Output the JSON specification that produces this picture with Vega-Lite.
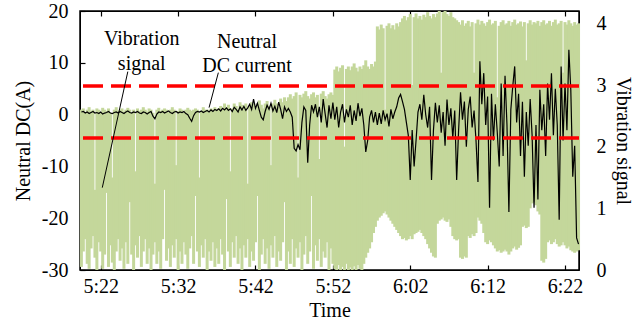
{
  "$schema": "https://vega.github.io/schema/vega-lite/v6.json",
  "width": 499,
  "height": 259,
  "autosize": {"type": "none"},
  "padding": {"left": 80, "top": 11, "right": 57, "bottom": 52},
  "config": {
    "font": "Times New Roman, Liberation Serif, serif",
    "view": {"stroke": "black", "strokeWidth": 1.5},
    "axis": {
      "labelFont": "Times New Roman, Liberation Serif, serif",
      "titleFont": "Times New Roman, Liberation Serif, serif",
      "labelFontSize": 20,
      "titleFontSize": 20,
      "titleFontWeight": "normal",
      "labelColor": "black",
      "titleColor": "black",
      "tickColor": "black",
      "domainColor": "black",
      "grid": false,
      "tickSize": -5,
      "tickWidth": 1.2
    }
  },
  "datasets": {
    "sig": [
      {"t":19.5,"lo":0.05,"hi":2.6,"dc":0.5},{"t":19.75,"lo":0.3,"hi":2.62,"dc":0.6},{"t":20,"lo":0.5,"hi":2.55,"dc":0.3},{"t":20.25,"lo":0.1,"hi":2.6,"dc":0.5},
      {"t":20.5,"lo":0.02,"hi":2.64,"dc":0.2},{"t":20.75,"lo":0.35,"hi":2.58,"dc":0.4},{"t":21,"lo":0.55,"hi":2.6,"dc":0.6},{"t":21.25,"lo":0.2,"hi":1.3,"dc":0.3},
      {"t":21.5,"lo":0.0,"hi":2.62,"dc":0.4},{"t":21.75,"lo":0.45,"hi":2.6,"dc":0.2},{"t":22,"lo":0.3,"hi":2.56,"dc":0.5},{"t":22.25,"lo":0.02,"hi":2.63,"dc":0.1},
      {"t":22.5,"lo":0.25,"hi":2.6,"dc":0.3},{"t":22.75,"lo":1.25,"hi":2.58,"dc":0.4},{"t":23,"lo":0.05,"hi":2.62,"dc":0.6},{"t":23.25,"lo":0.4,"hi":2.55,"dc":0.3},
      {"t":23.5,"lo":0.12,"hi":1.5,"dc":0.2},{"t":23.75,"lo":0.0,"hi":2.6,"dc":0.4},{"t":24,"lo":0.3,"hi":2.64,"dc":0.5},{"t":24.25,"lo":0.5,"hi":2.58,"dc":0.3},
      {"t":24.5,"lo":0.15,"hi":2.6,"dc":0.6},{"t":24.75,"lo":0.35,"hi":2.62,"dc":0.4},{"t":25,"lo":0.02,"hi":2.57,"dc":0.2},{"t":25.25,"lo":0.45,"hi":2.6,"dc":0.5},
      {"t":25.5,"lo":0.1,"hi":2.63,"dc":0.7},{"t":25.75,"lo":1.1,"hi":2.6,"dc":0.4},{"t":26,"lo":0.25,"hi":2.55,"dc":0.3},{"t":26.25,"lo":0.0,"hi":2.6,"dc":0.5},
      {"t":26.5,"lo":0.4,"hi":1.6,"dc":0.4},{"t":26.75,"lo":0.2,"hi":2.62,"dc":0.6},{"t":27,"lo":0.55,"hi":2.58,"dc":0.3},{"t":27.25,"lo":0.05,"hi":2.6,"dc":0.2},
      {"t":27.5,"lo":0.3,"hi":2.64,"dc":0.5},{"t":27.75,"lo":0.5,"hi":2.6,"dc":0.4},{"t":28,"lo":0.1,"hi":2.57,"dc":0.1},{"t":28.25,"lo":0.35,"hi":2.62,"dc":0.4},
      {"t":28.5,"lo":0.0,"hi":2.6,"dc":0.6},{"t":28.75,"lo":0.25,"hi":2.55,"dc":-0.3},{"t":29,"lo":0.45,"hi":1.4,"dc":-0.8},{"t":29.25,"lo":0.1,"hi":2.6,"dc":0.1},
      {"t":29.5,"lo":0.3,"hi":2.63,"dc":0.5},{"t":29.75,"lo":0.02,"hi":2.58,"dc":0.4},{"t":30,"lo":0.5,"hi":2.6,"dc":0.6},{"t":30.25,"lo":1.3,"hi":2.62,"dc":0.3},
      {"t":30.5,"lo":0.15,"hi":2.6,"dc":0.5},{"t":30.75,"lo":0.35,"hi":2.56,"dc":0.7},{"t":31,"lo":0.05,"hi":2.6,"dc":0.4},{"t":31.25,"lo":0.4,"hi":2.64,"dc":0.2},
      {"t":31.5,"lo":0.2,"hi":2.6,"dc":0.5},{"t":31.75,"lo":0.5,"hi":1.7,"dc":0.6},{"t":32,"lo":0.0,"hi":2.58,"dc":0.3},{"t":32.25,"lo":0.3,"hi":2.62,"dc":0.5},
      {"t":32.5,"lo":0.1,"hi":2.6,"dc":0.4},{"t":32.75,"lo":0.45,"hi":2.55,"dc":0.6},{"t":33,"lo":0.25,"hi":2.6,"dc":0.2},{"t":33.25,"lo":0.02,"hi":2.63,"dc":0.0},
      {"t":33.5,"lo":0.35,"hi":2.6,"dc":-0.7},{"t":33.75,"lo":0.55,"hi":2.58,"dc":-1.3},{"t":34,"lo":0.1,"hi":2.6,"dc":-0.2},{"t":34.25,"lo":1.2,"hi":2.62,"dc":0.4},
      {"t":34.5,"lo":0.3,"hi":2.6,"dc":0.6},{"t":34.75,"lo":0.05,"hi":1.5,"dc":0.5},{"t":35,"lo":0.4,"hi":2.58,"dc":0.7},{"t":35.25,"lo":0.2,"hi":2.64,"dc":0.4},
      {"t":35.5,"lo":0.5,"hi":2.6,"dc":0.6},{"t":35.75,"lo":0.0,"hi":2.6,"dc":0.8},{"t":36,"lo":0.3,"hi":2.56,"dc":0.5},{"t":36.25,"lo":0.15,"hi":2.62,"dc":0.9},
      {"t":36.5,"lo":0.45,"hi":2.6,"dc":0.6},{"t":36.75,"lo":0.05,"hi":2.64,"dc":1.0},{"t":37,"lo":0.35,"hi":2.6,"dc":0.8},
      {"t":37.25,"lo":0.1,"hi":2.62,"dc":1.1},{"t":37.5,"lo":0.5,"hi":2.66,"dc":0.7},{"t":37.75,"lo":0.25,"hi":2.6,"dc":1.2},{"t":38,"lo":0.0,"hi":2.7,"dc":0.9},
      {"t":38.25,"lo":1.15,"hi":2.64,"dc":1.3},{"t":38.5,"lo":0.3,"hi":2.68,"dc":0.8},{"t":38.75,"lo":0.05,"hi":1.6,"dc":1.1},{"t":39,"lo":0.45,"hi":2.62,"dc":0.6},
      {"t":39.25,"lo":0.2,"hi":2.7,"dc":1.4},{"t":39.5,"lo":0.55,"hi":2.66,"dc":1.0},{"t":39.75,"lo":0.1,"hi":2.6,"dc":0.5},{"t":40,"lo":0.35,"hi":2.72,"dc":1.5},
      {"t":40.25,"lo":0.0,"hi":2.68,"dc":0.9},{"t":40.5,"lo":0.4,"hi":2.64,"dc":1.6},{"t":40.75,"lo":0.2,"hi":2.7,"dc":0.8},{"t":41,"lo":0.5,"hi":1.4,"dc":1.3},
      {"t":41.25,"lo":0.05,"hi":2.66,"dc":2.0},{"t":41.5,"lo":0.3,"hi":2.72,"dc":1.0},{"t":41.75,"lo":0.15,"hi":2.7,"dc":3.0},{"t":42,"lo":0.45,"hi":2.64,"dc":1.2},
      {"t":42.25,"lo":1.2,"hi":2.7,"dc":2.2},{"t":42.5,"lo":0.0,"hi":2.75,"dc":0.8},{"t":42.75,"lo":0.25,"hi":2.68,"dc":-0.5},{"t":43,"lo":0.5,"hi":2.62,"dc":-1.0},
      {"t":43.25,"lo":0.1,"hi":2.7,"dc":0.6},{"t":43.5,"lo":0.35,"hi":2.74,"dc":1.8},{"t":43.75,"lo":0.02,"hi":2.66,"dc":1.0},{"t":44,"lo":0.4,"hi":1.7,"dc":2.2},
      {"t":44.25,"lo":0.2,"hi":2.7,"dc":0.7},{"t":44.5,"lo":0.55,"hi":2.76,"dc":1.6},{"t":44.75,"lo":0.05,"hi":2.7,"dc":0.4},{"t":45,"lo":0.3,"hi":2.65,"dc":2.4},
      {"t":45.25,"lo":0.15,"hi":2.78,"dc":1.0},{"t":45.5,"lo":0.45,"hi":2.72,"dc":-0.8},{"t":45.75,"lo":1.1,"hi":2.8,"dc":1.5},{"t":46,"lo":0.0,"hi":2.74,"dc":0.6},
      {"t":46.25,"lo":0.3,"hi":2.8,"dc":1.2},{"t":46.5,"lo":0.1,"hi":2.85,"dc":0.5},{"t":46.75,"lo":0.5,"hi":2.78,"dc":-0.5},{"t":47,"lo":0.05,"hi":2.82,"dc":-6.5},
      {"t":47.25,"lo":0.35,"hi":2.88,"dc":-7.0},{"t":47.5,"lo":0.2,"hi":1.5,"dc":-5.8},{"t":47.75,"lo":0.45,"hi":2.84,"dc":-6.8},{"t":48,"lo":0.0,"hi":2.8,"dc":-1.5},
      {"t":48.25,"lo":0.25,"hi":2.86,"dc":1.5},{"t":48.5,"lo":0.55,"hi":2.9,"dc":0.8},{"t":48.75,"lo":0.1,"hi":2.82,"dc":-9.3},{"t":49,"lo":0.3,"hi":2.78,"dc":-2.0},
      {"t":49.25,"lo":1.2,"hi":2.85,"dc":1.8},{"t":49.5,"lo":0.02,"hi":2.88,"dc":0.5},{"t":49.75,"lo":0.4,"hi":2.8,"dc":2.0},{"t":50,"lo":0.15,"hi":2.84,"dc":-0.5},
      {"t":50.25,"lo":0.5,"hi":1.8,"dc":1.5},{"t":50.5,"lo":0.05,"hi":2.86,"dc":-1.5},{"t":50.75,"lo":0.3,"hi":2.9,"dc":3.0},{"t":51,"lo":0.2,"hi":2.82,"dc":0.2},
      {"t":51.25,"lo":0.45,"hi":2.78,"dc":-2.5},{"t":51.5,"lo":0.0,"hi":2.85,"dc":1.8},{"t":51.75,"lo":0.35,"hi":2.88,"dc":-0.8},{"t":52,"lo":0.1,"hi":2.84,"dc":2.3},
      {"t":52.25,"lo":0.02,"hi":3.25,"dc":-1.0},{"t":52.5,"lo":0.0,"hi":3.3,"dc":1.5},{"t":52.75,"lo":0.08,"hi":3.22,"dc":-2.5},{"t":53,"lo":0.0,"hi":3.28,"dc":0.5},
      {"t":53.25,"lo":0.05,"hi":3.32,"dc":2.0},{"t":53.5,"lo":0.0,"hi":2.0,"dc":-1.5},{"t":53.75,"lo":0.1,"hi":3.26,"dc":1.0},{"t":54,"lo":0.0,"hi":3.3,"dc":-0.5},
      {"t":54.25,"lo":0.04,"hi":3.24,"dc":1.8},{"t":54.5,"lo":0.0,"hi":3.3,"dc":-2.0},{"t":54.75,"lo":0.06,"hi":3.35,"dc":0.8},{"t":55,"lo":0.0,"hi":3.28,"dc":-1.2},
      {"t":55.25,"lo":0.08,"hi":3.22,"dc":2.2},{"t":55.5,"lo":0.02,"hi":3.3,"dc":-0.3},{"t":55.75,"lo":0.0,"hi":3.26,"dc":1.2},{"t":56,"lo":0.1,"hi":3.32,"dc":-2.0},
      {"t":56.25,"lo":0.2,"hi":3.4,"dc":-7.2},{"t":56.5,"lo":0.28,"hi":3.3,"dc":-5.0},{"t":56.75,"lo":0.35,"hi":3.26,"dc":-0.5},{"t":57,"lo":0.45,"hi":3.34,"dc":0.8},
      {"t":57.25,"lo":0.6,"hi":3.3,"dc":-1.5},{"t":57.5,"lo":0.7,"hi":3.38,"dc":0.5},
      {"t":57.75,"lo":0.8,"hi":3.95,"dc":-2.0},{"t":58,"lo":0.85,"hi":3.9,"dc":0.3},{"t":58.25,"lo":0.88,"hi":3.98,"dc":-1.8},{"t":58.5,"lo":0.92,"hi":3.92,"dc":0.8},
      {"t":58.75,"lo":0.95,"hi":2.6,"dc":-1.0},{"t":59,"lo":0.9,"hi":3.96,"dc":0.2},{"t":59.25,"lo":0.85,"hi":4.0,"dc":-2.3},{"t":59.5,"lo":0.8,"hi":3.92,"dc":1.0},
      {"t":59.75,"lo":0.75,"hi":3.97,"dc":-0.8},{"t":60,"lo":0.7,"hi":3.9,"dc":0.5},{"t":60.25,"lo":0.65,"hi":4.0,"dc":1.5},{"t":60.5,"lo":0.6,"hi":3.95,"dc":3.2},
      {"t":60.75,"lo":0.55,"hi":4.02,"dc":3.9},
      {"t":61,"lo":0.5,"hi":4.08,"dc":2.5},{"t":61.25,"lo":0.52,"hi":4.12,"dc":1.0},{"t":61.5,"lo":0.48,"hi":4.05,"dc":-1.5},{"t":61.75,"lo":0.5,"hi":4.1,"dc":-4.0},
      {"t":62,"lo":0.55,"hi":4.15,"dc":-12.6},{"t":62.25,"lo":0.5,"hi":3.0,"dc":-3.0},{"t":62.5,"lo":0.58,"hi":4.1,"dc":-10.0},{"t":62.75,"lo":0.6,"hi":4.16,"dc":-5.0},
      {"t":63,"lo":0.62,"hi":4.08,"dc":0.5},{"t":63.25,"lo":0.65,"hi":4.12,"dc":2.0},{"t":63.5,"lo":0.6,"hi":4.06,"dc":-1.0},{"t":63.75,"lo":0.55,"hi":4.14,"dc":3.8},
      {"t":64,"lo":0.5,"hi":4.1,"dc":0.0},{"t":64.25,"lo":0.42,"hi":4.18,"dc":-2.5},{"t":64.5,"lo":0.35,"hi":4.12,"dc":1.5},{"t":64.75,"lo":0.28,"hi":4.08,"dc":-12.6},
      {"t":65,"lo":0.22,"hi":4.15,"dc":-3.0},{"t":65.25,"lo":0.2,"hi":4.1,"dc":2.3},{"t":65.5,"lo":0.75,"hi":4.16,"dc":-1.5},{"t":65.75,"lo":0.8,"hi":4.2,"dc":1.8},
      {"t":66,"lo":0.82,"hi":3.2,"dc":-3.5},{"t":66.25,"lo":0.85,"hi":4.18,"dc":0.5},{"t":66.5,"lo":0.8,"hi":4.2,"dc":-6.0},{"t":66.75,"lo":0.78,"hi":4.15,"dc":2.9},
      {"t":67,"lo":0.82,"hi":4.12,"dc":-2.0},{"t":67.25,"lo":0.7,"hi":4.18,"dc":1.2},{"t":67.5,"lo":0.55,"hi":4.1,"dc":-4.5},{"t":67.75,"lo":0.5,"hi":4.08,"dc":0.8},
      {"t":68,"lo":0.48,"hi":4.05,"dc":-12.6},
      {"t":68.25,"lo":0.5,"hi":4.02,"dc":-3.0},{"t":68.5,"lo":0.2,"hi":3.98,"dc":4.3},{"t":68.75,"lo":0.18,"hi":4.05,"dc":-1.0},{"t":69,"lo":0.22,"hi":3.96,"dc":2.5},
      {"t":69.25,"lo":0.2,"hi":4.0,"dc":-6.2},{"t":69.5,"lo":0.55,"hi":4.04,"dc":1.0},{"t":69.75,"lo":0.52,"hi":3.95,"dc":3.5},{"t":70,"lo":0.58,"hi":4.02,"dc":-2.5},
      {"t":70.25,"lo":0.55,"hi":3.2,"dc":0.8},{"t":70.5,"lo":0.6,"hi":4.0,"dc":-5.0},{"t":70.75,"lo":0.85,"hi":4.06,"dc":-13.0},{"t":71,"lo":0.8,"hi":3.98,"dc":10.3},
      {"t":71.25,"lo":0.75,"hi":4.04,"dc":2.0},{"t":71.5,"lo":0.6,"hi":4.0,"dc":8.0},{"t":71.75,"lo":0.45,"hi":3.96,"dc":-2.0},{"t":72,"lo":0.42,"hi":4.02,"dc":3.5},
      {"t":72.25,"lo":0.48,"hi":4.06,"dc":-18.0},{"t":72.5,"lo":0.45,"hi":3.98,"dc":4.0},{"t":72.75,"lo":0.4,"hi":4.0,"dc":-5.0},{"t":73,"lo":0.35,"hi":4.04,"dc":2.0},
      {"t":73.25,"lo":0.3,"hi":2.8,"dc":-3.5},{"t":73.5,"lo":0.32,"hi":3.96,"dc":-10.0},{"t":73.75,"lo":0.28,"hi":4.02,"dc":6.0},{"t":74,"lo":0.3,"hi":4.05,"dc":-8.0},
      {"t":74.25,"lo":0.33,"hi":3.98,"dc":7.5},{"t":74.5,"lo":0.3,"hi":4.0,"dc":-2.0},{"t":74.75,"lo":0.25,"hi":4.04,"dc":-18.8},{"t":75,"lo":0.3,"hi":3.96,"dc":1.0},
      {"t":75.25,"lo":0.35,"hi":4.02,"dc":5.5},{"t":75.5,"lo":0.38,"hi":4.06,"dc":9.3},{"t":75.75,"lo":0.33,"hi":3.98,"dc":-1.5},{"t":76,"lo":0.36,"hi":4.0,"dc":4.0},
      {"t":76.25,"lo":0.4,"hi":4.03,"dc":-8.0},{"t":76.5,"lo":0.7,"hi":3.95,"dc":2.5},{"t":76.75,"lo":0.72,"hi":4.02,"dc":-12.0},{"t":77,"lo":0.68,"hi":3.4,"dc":0.5},
      {"t":77.25,"lo":0.7,"hi":4.0,"dc":-6.0},{"t":77.5,"lo":1.0,"hi":4.05,"dc":3.0},{"t":77.75,"lo":1.08,"hi":3.98,"dc":-4.0},{"t":78,"lo":1.1,"hi":4.02,"dc":-18.0},
      {"t":78.25,"lo":1.05,"hi":4.0,"dc":-2.0},{"t":78.5,"lo":0.95,"hi":4.04,"dc":-16.4},{"t":78.75,"lo":0.9,"hi":3.96,"dc":4.8},{"t":79,"lo":0.15,"hi":4.02,"dc":-3.0},
      {"t":79.25,"lo":0.12,"hi":4.05,"dc":2.0},{"t":79.5,"lo":0.18,"hi":3.98,"dc":-8.0},{"t":79.75,"lo":0.45,"hi":4.0,"dc":6.0},{"t":80,"lo":0.48,"hi":4.04,"dc":-1.0},
      {"t":80.25,"lo":0.42,"hi":3.96,"dc":8.0},{"t":80.5,"lo":0.45,"hi":4.02,"dc":-4.0},{"t":80.75,"lo":0.5,"hi":4.06,"dc":5.0},{"t":81,"lo":0.42,"hi":3.98,"dc":-2.0},
      {"t":81.25,"lo":0.38,"hi":4.0,"dc":-20.3},{"t":81.5,"lo":0.4,"hi":4.04,"dc":9.3},{"t":81.75,"lo":0.45,"hi":3.2,"dc":-5.0},{"t":82,"lo":0.4,"hi":4.02,"dc":6.0},
      {"t":82.25,"lo":0.35,"hi":3.98,"dc":-3.0},{"t":82.5,"lo":0.38,"hi":4.05,"dc":12.5},{"t":82.75,"lo":0.32,"hi":4.0,"dc":4.8},{"t":83,"lo":0.3,"hi":3.96,"dc":-12.0},
      {"t":83.25,"lo":0.28,"hi":4.02,"dc":-6.0},{"t":83.5,"lo":0.3,"hi":3.98,"dc":-23.8},{"t":83.75,"lo":0.32,"hi":4.0,"dc":-25.0}
    ],
    "limits": [{"v": 5.5}, {"v": -4.5}],
    "leaders": [
      {"t1": 25.5, "y1": 8.3, "t2": 22.2, "y2": -14.1},
      {"t1": 37.2, "y1": 8.1, "t2": 36.0, "y2": 1.35}
    ],
    "labels": [
      {"t": 27.3, "y": 14.5, "text": "Vibration"},
      {"t": 27.3, "y": 9.7, "text": "signal"},
      {"t": 40.9, "y": 14.1, "text": "Neutral"},
      {"t": 40.9, "y": 9.3, "text": "DC current"}
    ]
  },
  "layer": [
    {
      "data": {"name": "sig"},
      "mark": {"type": "rule", "color": "#c4d79b", "strokeWidth": 3},
      "encoding": {
        "x": {
          "field": "t", "type": "quantitative",
          "scale": {"domain": [19.32, 83.81], "nice": false, "zero": false},
          "axis": {
            "orient": "bottom", "title": "Time",
            "values": [22, 32, 42, 52, 62, 72, 82],
            "labelExpr": "datum.value < 60 ? '5:' + datum.value : '6:' + (datum.value - 60 < 10 ? '0' : '') + (datum.value - 60)",
            "labelPadding": 11, "titlePadding": 4
          }
        },
        "y": {
          "field": "lo", "type": "quantitative",
          "scale": {"domain": [0, 4.2], "nice": false, "zero": false},
          "axis": {
            "orient": "right", "title": "Vibration signal",
            "values": [0, 1, 2, 3, 4], "ticks": false,
            "labelPadding": 17, "titlePadding": 6
          }
        },
        "y2": {"field": "hi"}
      }
    },
    {
      "layer": [
        {
          "data": {"name": "sig"},
          "mark": {"type": "line", "color": "black", "strokeWidth": 1.2},
          "encoding": {
            "x": {
              "field": "t", "type": "quantitative",
              "axis": {"orient": "top", "title": null, "labels": false, "values": [22, 32, 42, 52, 62, 72, 82]}
            },
            "y": {
              "field": "dc", "type": "quantitative",
              "scale": {"domain": [-30, 20], "nice": false, "zero": false},
              "axis": {
                "orient": "left", "title": "Neutral DC(A)",
                "values": [-30, -25, -20, -15, -10, -5, 0, 5, 10, 15, 20],
                "labelExpr": "datum.value % 10 === 0 ? '' + datum.value : ''",
                "labelPadding": 17, "titlePadding": 8
              }
            }
          }
        },
        {
          "data": {"name": "limits"},
          "mark": {"type": "rule", "color": "#ff0000", "strokeWidth": 3.5, "strokeDash": [20, 8]},
          "encoding": {"y": {"field": "v", "type": "quantitative"}}
        },
        {
          "data": {"name": "leaders"},
          "mark": {"type": "rule", "color": "black", "strokeWidth": 1},
          "encoding": {
            "x": {"field": "t1", "type": "quantitative"},
            "x2": {"field": "t2"},
            "y": {"field": "y1", "type": "quantitative"},
            "y2": {"field": "y2"}
          }
        },
        {
          "data": {"name": "labels"},
          "mark": {"type": "text", "font": "Times New Roman, Liberation Serif, serif", "fontSize": 20, "color": "black", "baseline": "middle", "align": "center"},
          "encoding": {
            "x": {"field": "t", "type": "quantitative"},
            "y": {"field": "y", "type": "quantitative"},
            "text": {"field": "text"}
          }
        }
      ]
    }
  ],
  "resolve": {"scale": {"y": "independent"}, "axis": {"x": "independent", "y": "independent"}}
}
